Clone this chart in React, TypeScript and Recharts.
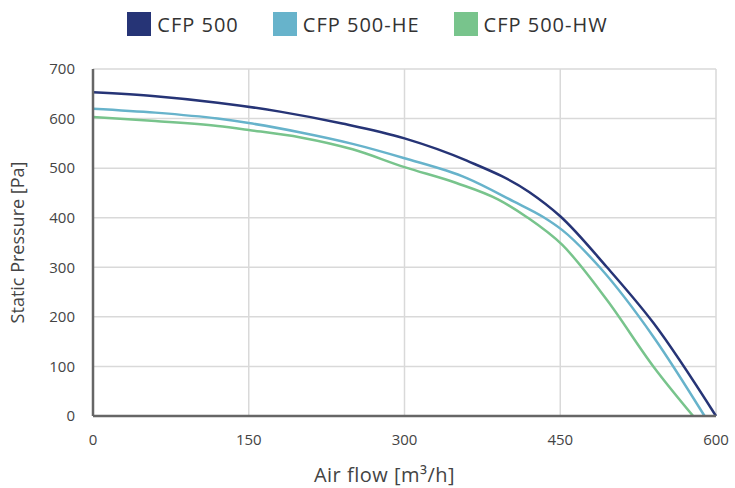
import React from 'react';
import { LineChart, Line, XAxis, YAxis, CartesianGrid, Legend } from 'recharts';

const seriesNames = ['CFP 500', 'CFP 500-HE', 'CFP 500-HW'];
const seriesColors = ['#263476', '#67b3cb', '#78c48c'];

const cfp500Flow = [0, 60, 120, 180, 240, 300, 360, 420, 450, 495, 540, 600];
const cfp500Pressure = [653, 645, 632, 614, 590, 560, 515, 452, 403, 300, 187, 0];

const cfp500HeFlow = [0, 60, 120, 150, 200, 250, 300, 360, 405, 434, 452, 488, 540, 589];
const cfp500HePressure = [620, 612, 600, 591, 572, 549, 520, 480, 433, 401, 375, 300, 159, 0];

const cfp500HwFlow = [0, 60, 120, 150, 200, 250, 300, 350, 390, 418, 452, 495, 540, 578];
const cfp500HwPressure = [603, 595, 585, 577, 562, 538, 502, 470, 437, 401, 345, 234, 99, 0];

const xTicks = [0, 150, 300, 450, 600];
const yTicks = [0, 100, 200, 300, 400, 500, 600, 700];

const toPoints = (xs: number[], ys: number[]) => xs.map((x, i) => ({ x, y: ys[i] }));

const series = [
  toPoints(cfp500Flow, cfp500Pressure),
  toPoints(cfp500HeFlow, cfp500HePressure),
  toPoints(cfp500HwFlow, cfp500HwPressure),
];

const FONT = '"Open Sans", sans-serif';

const CustomLegend = () => (
  <div style={{ display: 'flex', justifyContent: 'center', fontFamily: FONT, fontSize: 20, letterSpacing: 1, color: '#333', height: 26 }}>
    {seriesNames.map((name, i) => (
      <div key={name} style={{ display: 'flex', alignItems: 'center', marginRight: i < 2 ? 34 : 0 }}>
        <span style={{ display: 'inline-block', width: 24, height: 24, background: seriesColors[i], marginRight: 6 }} />
        <span>{name}</span>
      </div>
    ))}
  </div>
);

export default function App() {
  return (
    <div style={{ position: 'absolute', left: 0, top: 0, background: '#fff' }}>
      <LineChart width={735} height={488} margin={{ top: 43, right: 19, bottom: 0, left: 0 }}>
        <CartesianGrid stroke="#d9d9d9" strokeWidth={1.5} />
        <Legend
          verticalAlign="top"
          content={<CustomLegend />}
          wrapperStyle={{ top: 11, left: 0, width: 735 }}
        />
        <XAxis
          type="number"
          dataKey="x"
          domain={[0, 600]}
          ticks={xTicks}
          height={72}
          tickLine={false}
          axisLine={{ stroke: '#666', strokeWidth: 2.5 }}
          tick={{ fontSize: 15, fill: '#444', fontFamily: FONT }}
          tickMargin={12}
          label={{ value: 'Air flow [m³/h]', position: 'insideBottom', offset: 6, dx: -20, style: { fontSize: 20, letterSpacing: 0.5, fill: '#444', fontFamily: FONT } }}
        />
        <YAxis
          type="number"
          domain={[0, 700]}
          ticks={yTicks}
          width={93}
          tickLine={false}
          axisLine={{ stroke: '#666', strokeWidth: 2.5 }}
          tick={{ fontSize: 15, fill: '#444', fontFamily: FONT }}
          tickMargin={12}
          label={{ value: 'Static Pressure [Pa]', angle: -90, position: 'insideLeft', offset: 18, style: { fontSize: 18, fill: '#444', fontFamily: FONT, textAnchor: 'middle' } }}
        />
        {series.map((data, i) => (
          <Line
            key={seriesNames[i]}
            data={data}
            dataKey="y"
            name={seriesNames[i]}
            type="monotone"
            stroke={seriesColors[i]}
            strokeWidth={2.5}
            dot={false}
            isAnimationActive={false}
          />
        ))}
      </LineChart>
    </div>
  );
}
